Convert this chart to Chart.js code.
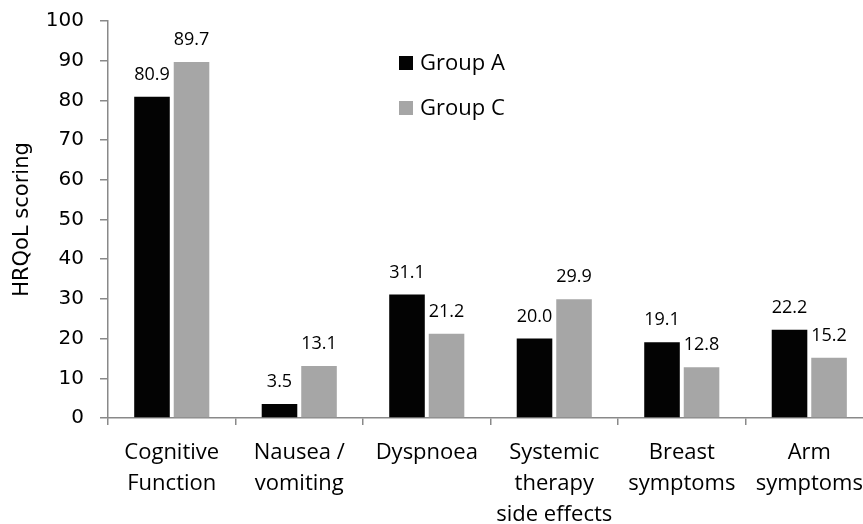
<!DOCTYPE html>
<html>
<head>
<meta charset="utf-8">
<script src="https://cdn.jsdelivr.net/npm/chart.js@4/dist/chart.umd.min.js"></script>
<style>
html,body{margin:0;padding:0;background:#fff;overflow:hidden;}
#wrap{width:863px;height:524px;overflow:hidden;position:relative;}
canvas{display:block;}
</style>
</head>
<body>
<div id="wrap"><canvas id="c" width="875" height="524"></canvas></div>
<script>
const categories = [
  ["Cognitive", "Function"],
  ["Nausea /", "vomiting"],
  ["Dyspnoea"],
  ["Systemic", "therapy", "side effects"],
  ["Breast", "symptoms"],
  ["Arm", "symptoms"]
];
const groupA = [80.9, 3.5, 31.1, 20.0, 19.1, 22.2];
const groupC = [89.7, 13.1, 21.2, 29.9, 12.8, 15.2];
const seriesNames = ["Group A", "Group C"];
const yTicks = [0, 10, 20, 30, 40, 50, 60, 70, 80, 90, 100];

const axisGrey = '#898989';
const labelFont = '"Open Sans", "Liberation Sans", sans-serif';
const numFont = '"DejaVu Sans", sans-serif';

const valueLabels = {
  id: 'valueLabels',
  afterDatasetsDraw(chart) {
    const ctx = chart.ctx;
    ctx.save();
    ctx.font = '18px ' + labelFont;
    ctx.fillStyle = '#000';
    ctx.textAlign = 'center';
    ctx.textBaseline = 'alphabetic';
    chart.data.datasets.forEach((ds, i) => {
      const meta = chart.getDatasetMeta(i);
      meta.data.forEach((bar, j) => {
        ctx.fillText(ds.data[j].toFixed(1), bar.x, bar.y - 17);
      });
    });
    ctx.restore();
  }
};

const customLegend = {
  id: 'customLegend',
  afterDraw(chart) {
    const ctx = chart.ctx;
    ctx.save();
    ctx.font = '22px ' + labelFont;
    ctx.textBaseline = 'middle';
    ctx.textAlign = 'left';
    chart.data.datasets.forEach((ds, i) => {
      const y = 63 + i * 45;
      ctx.fillStyle = ds.backgroundColor;
      ctx.fillRect(399, y - 7, 14, 14);
      ctx.fillStyle = '#000';
      ctx.fillText(ds.label, 420, y + 1);
    });
    ctx.restore();
  }
};

new Chart(document.getElementById('c'), {
  type: 'bar',
  data: {
    labels: categories,
    datasets: [
      { label: seriesNames[0], data: groupA, backgroundColor: '#030303' },
      { label: seriesNames[1], data: groupC, backgroundColor: '#a6a6a6' }
    ]
  },
  options: {
    responsive: false,
    animation: false,
    devicePixelRatio: 1,
    layout: { padding: { top: 21, right: 1, left: 0, bottom: 0 } },
    datasets: { bar: { categoryPercentage: 0.62, barPercentage: 0.9 } },
    plugins: {
      legend: { display: false },
      tooltip: { enabled: false }
    },
    scales: {
      x: {
        grid: { display: true, drawOnChartArea: false, offset: true, color: axisGrey, tickLength: 7, lineWidth: 1.5 },
        border: { display: true, color: axisGrey, width: 1.5 },
        ticks: {
          color: '#000',
          font: { family: labelFont, size: 22, lineHeight: 1.41 },
          padding: 12,
          maxRotation: 0,
          autoSkip: false
        },
        afterFit(scale) { scale.height = 106; }
      },
      y: {
        min: 0, max: 100,
        afterBuildTicks(scale) { scale.ticks = yTicks.map(v => ({ value: v })); },
        grid: { display: true, drawOnChartArea: false, color: axisGrey, tickLength: 8, lineWidth: 1.5 },
        border: { display: true, color: axisGrey, width: 1.5 },
        ticks: {
          color: '#000',
          font: { family: numFont, size: 20 },
          padding: 16
        },
        title: {
          display: true,
          text: 'HRQoL scoring',
          color: '#000',
          font: { family: numFont, size: 21 },
          padding: { top: 10, bottom: 0 }
        },
        afterFit(scale) {
          scale.width = 108;
          scale.paddingTop = 0;
          scale.paddingBottom = 0;
        }
      }
    }
  },
  plugins: [valueLabels, customLegend]
});
</script>
</body>
</html>
